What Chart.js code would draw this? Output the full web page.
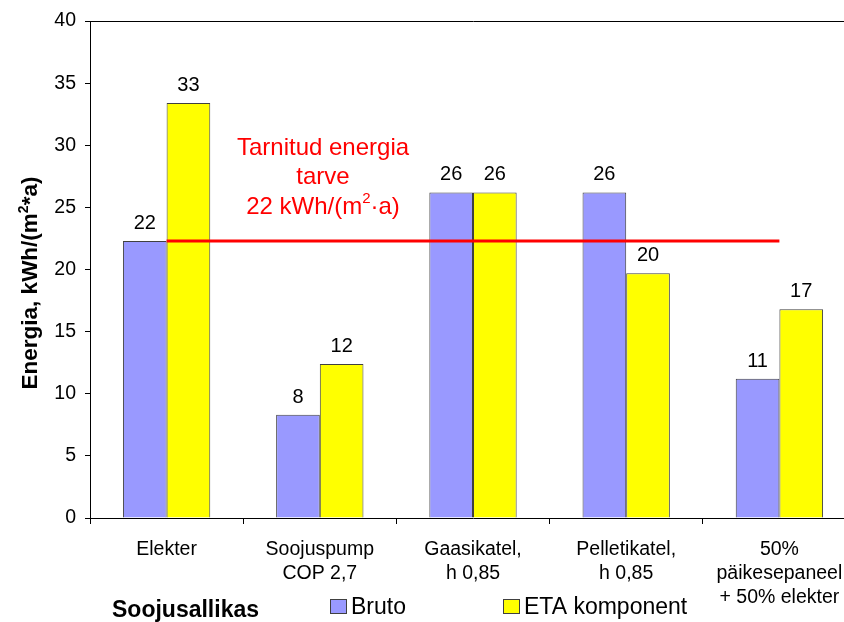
<!DOCTYPE html>
<html>
<head>
<meta charset="utf-8">
<script src="https://cdn.jsdelivr.net/npm/chart.js@4"></script>
<style>
  html, body { margin: 0; padding: 0; background: #fff; overflow: hidden; }
  #wrap { width: 860px; height: 622px; }
</style>
</head>
<body>
<div id="wrap"><canvas id="chart" width="860" height="622"></canvas></div>
<script>
const categories = [
    "Elekter",
    ["Soojuspump", "COP 2,7"],
    ["Gaasikatel,", "h 0,85"],
    ["Pelletikatel,", "h 0,85"],
    ["50%", "päikesepaneel", "+ 50% elekter"]
];
const bruto = [22.3, 8.3, 26.2, 26.2, 11.2];
const eta = [33.4, 12.4, 26.2, 19.7, 16.8];
const target = [22.3, 22.3, 22.3, 22.3, 22.3];
const yTicks = [0, 5, 10, 15, 20, 25, 30, 35, 40];

const FONT = "'Liberation Sans', Arial, sans-serif";

// labels, y title, note and legend drawn by hand
const extras = {
    id: "extras",
    afterDatasetsDraw(chart) {
        const ctx = chart.ctx;
        ctx.save();
        ctx.fillStyle = "#000";
        ctx.textAlign = "center";
        ctx.textBaseline = "alphabetic";
        ctx.font = "20px " + FONT;
        [0, 1].forEach((d) => {
            chart.getDatasetMeta(d).data.forEach((bar, i) => {
                const v = chart.data.datasets[d].data[i];
                ctx.fillText(v.toFixed(0), bar.x, bar.y - 12);
            });
        });

        // red note
        ctx.fillStyle = "#FF0000";
        ctx.font = "24px " + FONT;
        ctx.fillText("Tarnitud energia", 323, 155);
        ctx.fillText("tarve", 323, 184);
        const p1 = "22 kWh/(m", sup = "2", p2 = "\u00b7a)";
        const w1 = ctx.measureText(p1).width;
        const w3 = ctx.measureText(p2).width;
        ctx.font = "15px " + FONT;
        const w2 = ctx.measureText(sup).width;
        let x = 323 - (w1 + w2 + w3) / 2;
        ctx.textAlign = "left";
        ctx.font = "24px " + FONT;
        ctx.fillText(p1, x, 214);
        ctx.font = "15px " + FONT;
        ctx.fillText(sup, x + w1, 203);
        ctx.font = "24px " + FONT;
        ctx.fillText(p2, x + w1 + w2, 214);

        // y title
        ctx.fillStyle = "#000";
        ctx.translate(37, 283);
        ctx.rotate(-Math.PI / 2);
        const t1 = "Energia, kWh/(m", t2 = "2", t3 = "*a)";
        ctx.font = "bold 22.5px " + FONT;
        const a1 = ctx.measureText(t1).width;
        const a3 = ctx.measureText(t3).width;
        ctx.font = "bold 14px " + FONT;
        const a2 = ctx.measureText(t2).width;
        let tx = -(a1 + a2 + a3) / 2;
        ctx.font = "bold 22.5px " + FONT;
        ctx.fillText(t1, tx, 0);
        ctx.font = "bold 14px " + FONT;
        ctx.fillText(t2, tx + a1, -9);
        ctx.font = "bold 22.5px " + FONT;
        ctx.fillText(t3, tx + a1 + a2, 0);
        ctx.setTransform(1, 0, 0, 1, 0, 0);

        // axis title + legend
        ctx.font = "bold 23px " + FONT;
        ctx.fillText("Soojusallikas", 112, 617);
        const items = [
            { ds: chart.data.datasets[0], x: 330 },
            { ds: chart.data.datasets[1], x: 503 }
        ];
        ctx.font = "23px " + FONT;
        items.forEach((it) => {
            ctx.fillStyle = it.ds.backgroundColor;
            ctx.fillRect(it.x + 0.5, 599.5, 16, 14);
            ctx.strokeStyle = "#404040";
            ctx.lineWidth = 1;
            ctx.strokeRect(it.x + 0.5, 599.5, 16, 14);
            ctx.fillStyle = "#000";
            ctx.fillText(it.ds.label, it.x + 21, 614);
        });
        ctx.restore();
    }
};

new Chart(document.getElementById("chart"), {
    type: "bar",
    data: {
        labels: categories,
        datasets: [
            {
                label: "Bruto",
                data: bruto,
                backgroundColor: "#9999FF",
                borderColor: "#404040",
                borderWidth: 1,
                categoryPercentage: 0.57,
                barPercentage: 1,
                order: 1
            },
            {
                label: "ETA komponent",
                data: eta,
                backgroundColor: "#FFFF00",
                borderColor: "#404040",
                borderWidth: 1,
                categoryPercentage: 0.57,
                barPercentage: 1,
                order: 2
            },
            {
                type: "line",
                label: "Tarnitud energia",
                data: target,
                borderColor: "#FF0000",
                borderWidth: 3,
                pointRadius: 0,
                fill: false,
                order: 0
            }
        ]
    },
    options: {
        responsive: false,
        animation: false,
        layout: { padding: { top: 21, right: 4, left: 0, bottom: 0 } },
        plugins: {
            legend: { display: false },
            tooltip: { enabled: false }
        },
        scales: {
            x: {
                afterFit: (s) => { s.height = 104; },
                grid: { drawOnChartArea: false, color: "#000", tickLength: 6 },
                border: { color: "#000", width: 1 },
                ticks: {
                    color: "#000",
                    padding: 13,
                    font: { family: FONT, size: 19.5, lineHeight: 1.25 },
                    maxRotation: 0,
                    autoSkip: false
                }
            },
            y: {
                min: 0,
                max: 40,
                afterFit: (s) => { s.width = 90; },
                afterBuildTicks: (s) => { s.ticks = yTicks.map((v) => ({ value: v })); },
                grid: {
                    color: (c) => (c.tick && c.tick.value === 40 ? "#000" : "rgba(0,0,0,0)"),
                    tickColor: "#000",
                    tickLength: 5
                },
                border: { color: "#000", width: 1 },
                ticks: {
                    color: "#000",
                    padding: 9,
                    font: { family: FONT, size: 19.5 }
                }
            }
        }
    },
    plugins: [extras]
});
</script>
</body>
</html>
